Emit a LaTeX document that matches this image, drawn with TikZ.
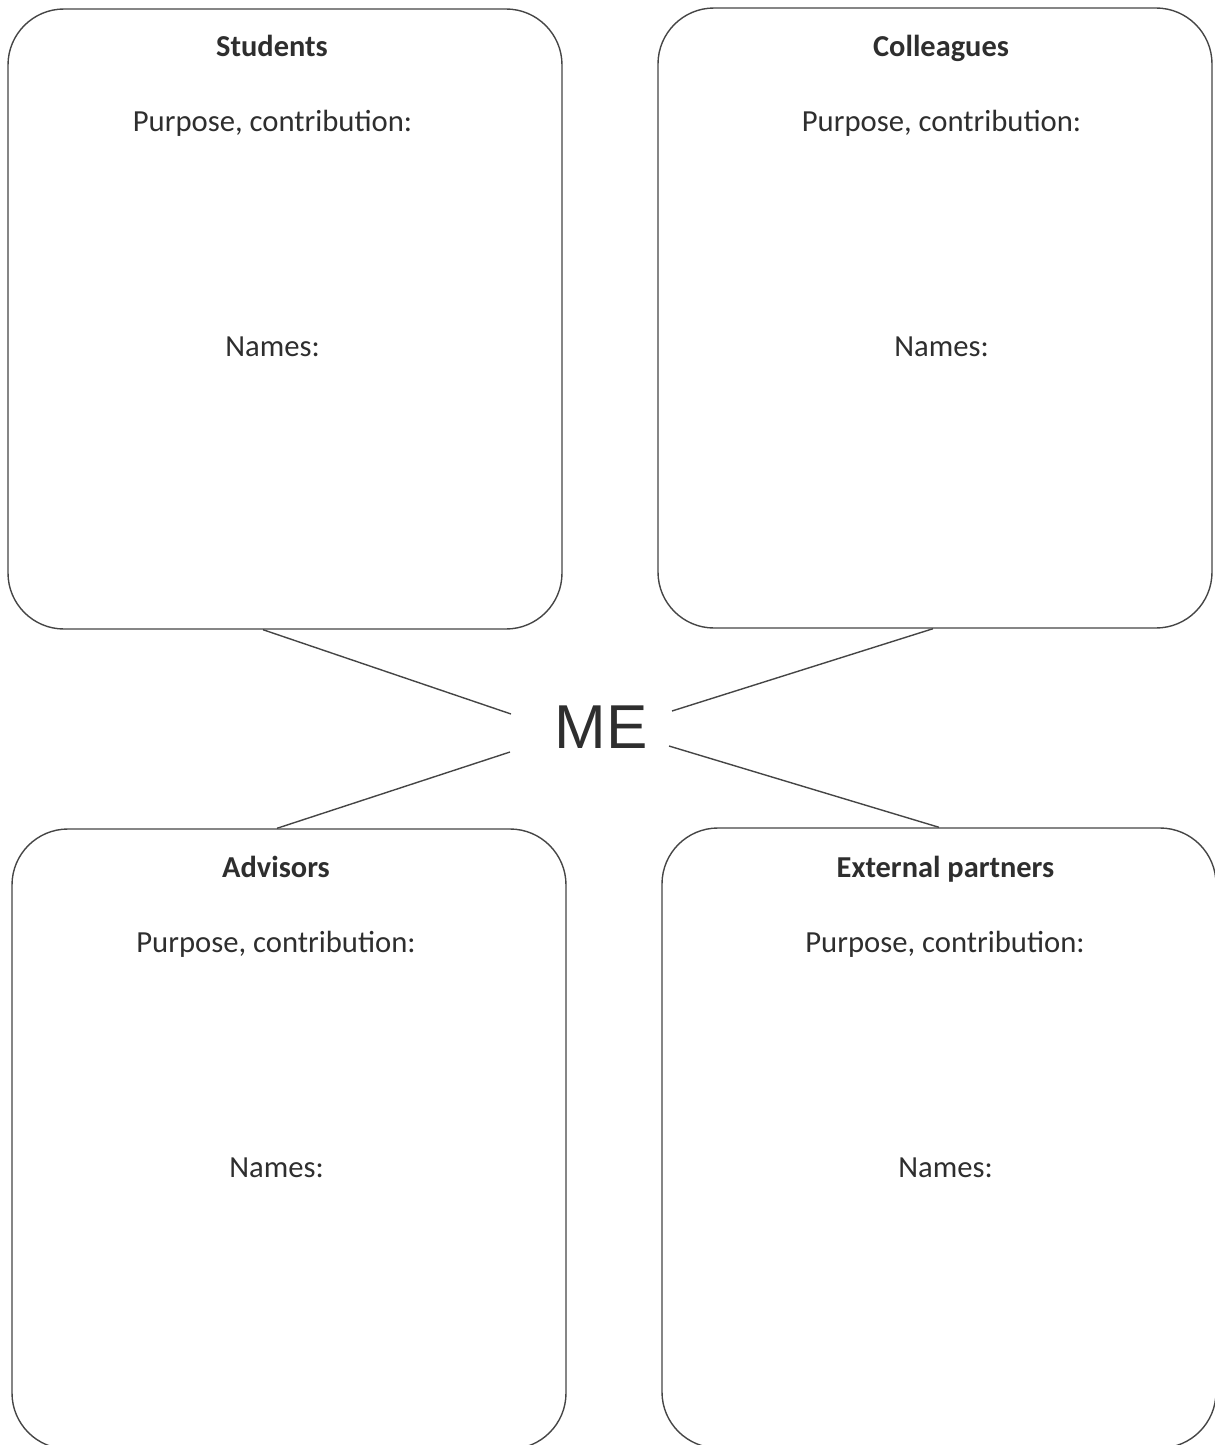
\documentclass[tikz,border=0pt]{standalone}
\usepackage{fontspec}
\setmainfont{Carlito}
\newfontfamily\mefont{Liberation Sans}
\usetikzlibrary{calc}
\definecolor{edge}{HTML}{454545}
\definecolor{ink}{HTML}{2E2E2E}
\begin{document}
\begin{tikzpicture}[x=0.75pt,y=-0.75pt,
  panel/.style={draw=edge,line width=1.05pt,rounded corners=42pt,
    minimum width=415.5pt,minimum height=465pt,inner sep=0pt},
  title/.style={anchor=base,text=ink,font=\bfseries\fontsize{22.8}{27}\selectfont},
  label/.style={anchor=base,text=ink,font=\fontsize{23}{27}\selectfont},
  link/.style={draw=edge,line width=1.05pt}]
\useasboundingbox (0,0) rectangle (1214,1445);

% the four panels
\node[panel] (stu) at (285,319) {};
\node[panel] (col) at (935,318) {};
\node[panel] (adv) at (289,1139) {};
\node[panel] (ext) at (939,1138) {};

% panel texts
\node[title] (stuT) at (272,57) {Students};
\node[label] (stuP) at (272.5,131.5) {Purpose, contribution:};
\node[label] (stuN) at (272.5,356.5) {Names:};

\node[title] (colT) at (941,56.5) {Colleagues};
\node[label] (colP) at (941.5,131) {Purpose, contribution:};
\node[label] (colN) at (941.5,356) {Names:};

\node[title] (advT) at (276,877) {Advisors};
\node[label] (advP) at (276,952) {Purpose, contribution:};
\node[label] (advN) at (276.5,1177) {Names:};

\node[title] (extT) at (945.5,877) {External partners};
\node[label] (extP) at (945,952) {Purpose, contribution:};
\node[label] (extN) at (945.5,1177) {Names:};

% centre label
\node[anchor=base,text=ink,font=\mefont\fontsize{46.5}{50}\selectfont] (me) at (601,748.3) {ME};

% free ends of the spokes near the centre label
\coordinate (meNW) at (511,714);
\coordinate (meNE) at (672,711);
\coordinate (meSW) at (510,752);
\coordinate (meSE) at (669,746);

% spokes
\draw[link] ($(stu.south)+(-22,0)$) -- (meNW);
\draw[link] ($(col.south)+(-2,0)$) -- (meNE);
\draw[link] ($(adv.north)+(-12,0)$) -- (meSW);
\draw[link] ($(ext.north)+(0,0)$) -- (meSE);
\end{tikzpicture}
\end{document}
